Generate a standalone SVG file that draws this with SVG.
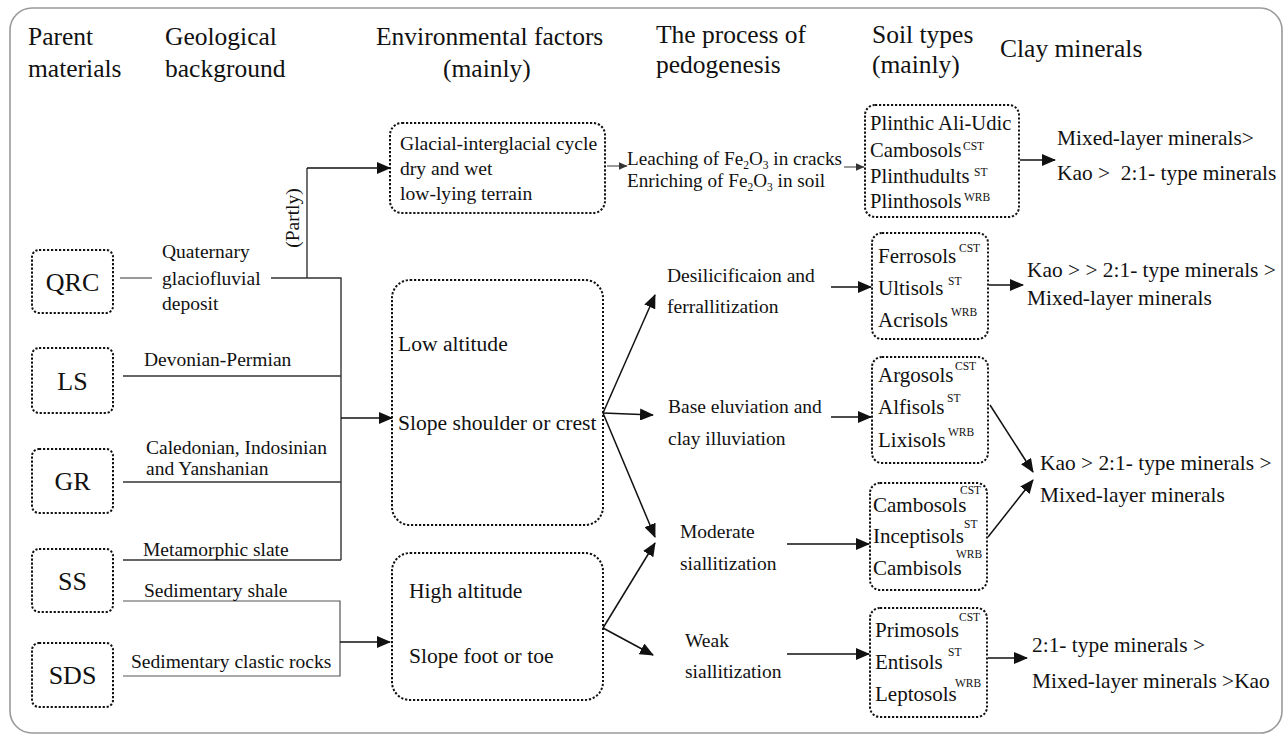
<svg xmlns="http://www.w3.org/2000/svg" width="1285" height="735" viewBox="0 0 1285 735" font-family="'Liberation Serif', 'Times New Roman', serif">
<style>
text{font-family:'Liberation Serif','Times New Roman',serif;fill:#111}
.hd{font-size:25.5px}
.pm{font-size:26px;text-anchor:middle}
.geo{font-size:19.5px}
.env{font-size:21.6px}
.gl{font-size:19.6px}
.pr{font-size:19.5px}
.lc{font-size:19.2px}
.soil{font-size:21px}
.pl{font-size:20.6px}
.sup{font-size:11.5px}
.clay{font-size:21.4px}
.box{fill:none;stroke:#111;stroke-width:2;stroke-dasharray:2.2 1.8}
.ln{fill:none;stroke:#333;stroke-width:1.4}
.lg{fill:none;stroke:#555;stroke-width:1.2}
.ar{fill:none;stroke:#111;stroke-width:1.5;marker-end:url(#ah)}
.ars{fill:none;stroke:#555;stroke-width:1.2;marker-end:url(#ahs)}
</style>
<defs>
<marker id="ah" markerUnits="userSpaceOnUse" markerWidth="14" markerHeight="12" viewBox="0 0 14 12" refX="13" refY="6" orient="auto">
<path d="M0,0 L14,6 L0,12 z" fill="#111"/>
</marker>
<marker id="ahs" markerUnits="userSpaceOnUse" markerWidth="9" markerHeight="8" viewBox="0 0 9 8" refX="8.5" refY="4" orient="auto">
<path d="M0,0 L9,4 L0,8 z" fill="#333"/>
</marker>
</defs>
<rect x="10" y="8" width="1272" height="725" rx="22" fill="#fff" stroke="#9a9a9a" stroke-width="1.6"/>

<g id="headers">
<text class="hd" x="28" y="45">Parent</text>
<text class="hd" x="28" y="77">materials</text>
<text class="hd" x="165" y="45">Geological</text>
<text class="hd" x="165" y="77">background</text>
<text class="hd" x="376" y="45">Environmental factors</text>
<text class="hd" x="443" y="77">(mainly)</text>
<text class="hd" x="656" y="43">The process of</text>
<text class="hd" x="656" y="73">pedogenesis</text>
<text class="hd" x="872" y="43">Soil types</text>
<text class="hd" x="872" y="73">(mainly)</text>
<text class="hd" x="1000" y="57">Clay minerals</text>
</g>

<g id="connectors">
<line class="lg" x1="120" y1="278" x2="152" y2="278"/>
<polyline class="ln" points="271,278 341,278 341,560"/>
<line class="ln" x1="307" y1="278" x2="307" y2="168"/>
<line class="ar" x1="307" y1="168" x2="390" y2="168"/>
<line class="ln" x1="123" y1="376" x2="341" y2="376"/>
<line class="ln" x1="123" y1="482" x2="341" y2="482"/>
<line class="ln" x1="123" y1="560" x2="341" y2="560"/>
<line class="ar" x1="341" y1="418" x2="392" y2="418"/>
<polyline class="lg" points="123,601 340,601 340,676 123,676"/>
<line class="ar" x1="340" y1="642" x2="390" y2="642"/>
<line class="ars" x1="607" y1="166" x2="627" y2="166"/>
<line class="ars" x1="844" y1="167" x2="864" y2="167"/>
<line class="ar" x1="1020" y1="160" x2="1055" y2="160"/>
<line class="ar" x1="603" y1="413" x2="655" y2="295"/>
<line class="ar" x1="603" y1="413" x2="653" y2="415"/>
<line class="ar" x1="603" y1="413" x2="655" y2="537"/>
<line class="ar" x1="603" y1="628" x2="655" y2="543"/>
<line class="ar" x1="603" y1="628" x2="653" y2="655"/>
<line class="ar" x1="831" y1="287" x2="871" y2="287"/>
<line class="ar" x1="989" y1="285" x2="1023" y2="285"/>
<line class="ar" x1="831" y1="417" x2="871" y2="417"/>
<line class="ar" x1="990" y1="405" x2="1033" y2="472"/>
<line class="ar" x1="988" y1="537" x2="1033" y2="480"/>
<line class="ar" x1="787" y1="544" x2="869" y2="544"/>
<line class="ar" x1="787" y1="654" x2="869" y2="654"/>
<line class="ar" x1="988" y1="658" x2="1027" y2="658"/>
</g>

<g id="node-QRC"><rect class="box" x="32" y="250" width="81" height="63" rx="7"/><text class="pm" x="72.5" y="291">QRC</text></g>
<g id="node-LS"><rect class="box" x="32" y="348" width="81" height="65" rx="7"/><text class="pm" x="72.5" y="390">LS</text></g>
<g id="node-GR"><rect class="box" x="32" y="449" width="81" height="64" rx="7"/><text class="pm" x="72.5" y="490">GR</text></g>
<g id="node-SS"><rect class="box" x="32" y="549" width="81" height="63" rx="7"/><text class="pm" x="72.5" y="590">SS</text></g>
<g id="node-SDS"><rect class="box" x="32" y="643" width="81" height="64" rx="7"/><text class="pm" x="72.5" y="684">SDS</text></g>

<g id="geology">
<text class="geo" x="162" y="258">Quaternary</text>
<text class="geo" x="162" y="285">glaciofluvial</text>
<text class="geo" x="162" y="310">deposit</text>
<text class="geo" x="0" y="0" transform="translate(299,218) rotate(-90)" text-anchor="middle">(Partly)</text>
<text class="geo" x="144" y="366">Devonian-Permian</text>
<text class="geo" x="146" y="454">Caledonian, Indosinian</text>
<text class="geo" x="146" y="475">and Yanshanian</text>
<text class="geo" x="143" y="556">Metamorphic slate</text>
<text class="geo" x="144" y="597">Sedimentary shale</text>
<text class="geo" x="131" y="668">Sedimentary clastic rocks</text>
</g>

<g id="node-glacial"><rect class="box" x="390" y="123" width="215" height="90" rx="12"/>
<text class="gl" x="400" y="150">Glacial-interglacial cycle</text>
<text class="gl" x="400" y="175">dry and wet</text>
<text class="gl" x="400" y="200">low-lying terrain</text></g>
<g id="node-low"><rect class="box" x="392" y="280" width="211" height="245" rx="18"/>
<text class="env" x="398" y="351">Low altitude</text>
<text class="env" x="398" y="430">Slope shoulder or crest</text></g>
<g id="node-high"><rect class="box" x="392" y="553" width="211" height="147" rx="18"/>
<text class="env" x="409" y="598">High altitude</text>
<text class="env" x="409" y="663">Slope foot or toe</text></g>

<g id="process">
<text class="lc" x="627" y="165">Leaching of Fe<tspan font-size="11.5" dy="4">2</tspan><tspan dy="-4">O</tspan><tspan font-size="11.5" dy="4">3</tspan><tspan dy="-4"> in cracks</tspan></text>
<text class="lc" x="627" y="187">Enriching of Fe<tspan font-size="11.5" dy="4">2</tspan><tspan dy="-4">O</tspan><tspan font-size="11.5" dy="4">3</tspan><tspan dy="-4"> in soil</tspan></text>
<text class="pr" x="667" y="282">Desilicificaion and</text>
<text class="pr" x="667" y="313">ferrallitization</text>
<text class="pr" x="668" y="413">Base eluviation and</text>
<text class="pr" x="668" y="445">clay illuviation</text>
<text class="pr" x="680" y="538">Moderate</text>
<text class="pr" x="680" y="570">siallitization</text>
<text class="pr" x="685" y="647">Weak</text>
<text class="pr" x="685" y="678">siallitization</text>
</g>

<g id="soil-plinthic"><rect class="box" x="865" y="105" width="154" height="112" rx="10"/>
<text class="pl" x="870" y="130">Plinthic Ali-Udic</text>
<text class="pl" x="870" y="157">Cambosols</text><text class="sup" x="963" y="150">CST</text>
<text class="pl" x="870" y="183">Plinthudults</text><text class="sup" x="974" y="176">ST</text>
<text class="pl" x="870" y="208">Plinthosols</text><text class="sup" x="964" y="201">WRB</text></g>
<g id="soil-ferrosols"><rect class="box" x="872" y="233" width="116" height="106" rx="10"/>
<text class="soil" x="878" y="263">Ferrosols</text><text class="sup" x="959" y="252">CST</text>
<text class="soil" x="878" y="295">Ultisols</text><text class="sup" x="948" y="285">ST</text>
<text class="soil" x="878" y="327">Acrisols</text><text class="sup" x="951" y="316">WRB</text></g>
<g id="soil-argosols"><rect class="box" x="872" y="357" width="116" height="106" rx="10"/>
<text class="soil" x="878" y="382">Argosols</text><text class="sup" x="955" y="370">CST</text>
<text class="soil" x="878" y="414">Alfisols</text><text class="sup" x="947" y="402">ST</text>
<text class="soil" x="878" y="447">Lixisols</text><text class="sup" x="948" y="436">WRB</text></g>
<g id="soil-cambosols"><rect class="box" x="870" y="483" width="117" height="107" rx="10"/>
<text class="soil" x="873" y="512">Cambosols</text><text class="sup" x="960" y="494">CST</text>
<text class="soil" x="873" y="543">Inceptisols</text><text class="sup" x="964" y="528">ST</text>
<text class="soil" x="873" y="575">Cambisols</text><text class="sup" x="956" y="558">WRB</text></g>
<g id="soil-primosols"><rect class="box" x="870" y="608" width="117" height="109" rx="10"/>
<text class="soil" x="875" y="637">Primosols</text><text class="sup" x="959" y="621">CST</text>
<text class="soil" x="875" y="669">Entisols</text><text class="sup" x="948" y="656">ST</text>
<text class="soil" x="875" y="701">Leptosols</text><text class="sup" x="955" y="687">WRB</text></g>

<g id="clay">
<text class="clay" x="1057" y="145">Mixed-layer minerals&gt;</text>
<text class="clay" x="1057" y="180" xml:space="preserve">Kao &gt;  2:1- type minerals</text>
<text class="clay" x="1027" y="277">Kao &gt; &gt; 2:1- type minerals &gt;</text>
<text class="clay" x="1027" y="305">Mixed-layer minerals</text>
<text class="clay" x="1040" y="470">Kao &gt; 2:1- type minerals &gt;</text>
<text class="clay" x="1040" y="502">Mixed-layer minerals</text>
<text class="clay" x="1032" y="652">2:1- type minerals &gt;</text>
<text class="clay" x="1032" y="688">Mixed-layer minerals &gt;Kao</text>
</g>
</svg>
